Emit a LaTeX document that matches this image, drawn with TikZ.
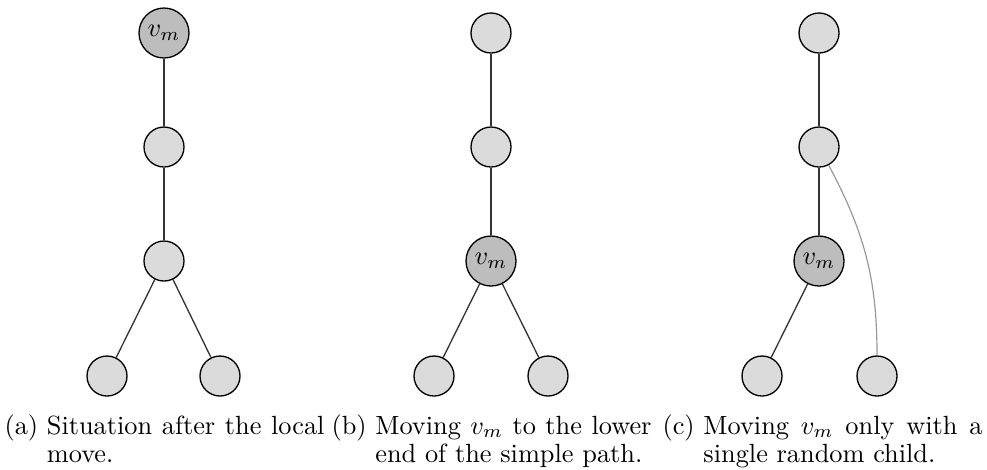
\documentclass[tikz,border=0pt]{standalone}
\newcommand{\mysubcap}[2]{\parbox[t]{121.6pt}{\baselineskip=11pt\setbox0=\hbox{#1\ }\hangindent=\wd0 \hangafter=1 \noindent\box0 #2}}
\begin{document}
\begin{tikzpicture}[x=0.38pt,y=-0.38pt,
  vtx/.style={circle,draw=black,line width=0.5pt,fill=black!14,minimum size=15.2pt,inner sep=0pt},
  vm/.style={circle,draw=black,line width=0.5pt,fill=black!26,minimum size=19pt,inner sep=0.5pt},
  edge/.style={draw=black!80,line width=0.5pt},
  jump/.style={draw=black!40,line width=0.45pt},
  captxt/.style={anchor=base west,inner sep=0pt}]
\useasboundingbox (0,0) rectangle (987,469);
% (a)
\node[vm]  (a1) at (164,33) {$v_m$};
\node[vtx] (a2) at (164,147) {};
\node[vtx] (a3) at (164,261) {};
\node[vtx] (a4) at (107,376) {};
\node[vtx] (a5) at (220,376) {};
\draw[edge] (a1) -- (a2);
\draw[edge] (a2) -- (a3);
\draw[edge] (a3) -- (a4);
\draw[edge] (a3) -- (a5);
% (b)
\node[vtx] (b1) at (491,33) {};
\node[vtx] (b2) at (491,147) {};
\node[vm]  (b3) at (491,261) {$v_m$};
\node[vtx] (b4) at (434,376) {};
\node[vtx] (b5) at (548,376) {};
\draw[edge] (b1) -- (b2);
\draw[edge] (b2) -- (b3);
\draw[edge] (b3) -- (b4);
\draw[edge] (b3) -- (b5);
% (c)
\node[vtx] (c1) at (819,33) {};
\node[vtx] (c2) at (819,147) {};
\node[vm]  (c3) at (819,261) {$v_m$};
\node[vtx] (c4) at (762,376) {};
\node[vtx] (c5) at (877,376) {};
\draw[edge] (c1) -- (c2);
\draw[edge] (c2) -- (c3);
\draw[edge] (c3) -- (c4);
\draw[jump] (c2) to[out=-62,in=90] (c5);
% captions
\node[captxt] (capa) at (4,434) {\mysubcap{(a)}{Situation after the local move.}};
\node[captxt] (capb) at (331,434) {\mysubcap{(b)}{Moving $v_m$ to the lower end of the simple path.}};
\node[captxt] (capc) at (662,434) {\mysubcap{(c)}{Moving $v_m$ only with a single random child.}};
\end{tikzpicture}
\end{document}
